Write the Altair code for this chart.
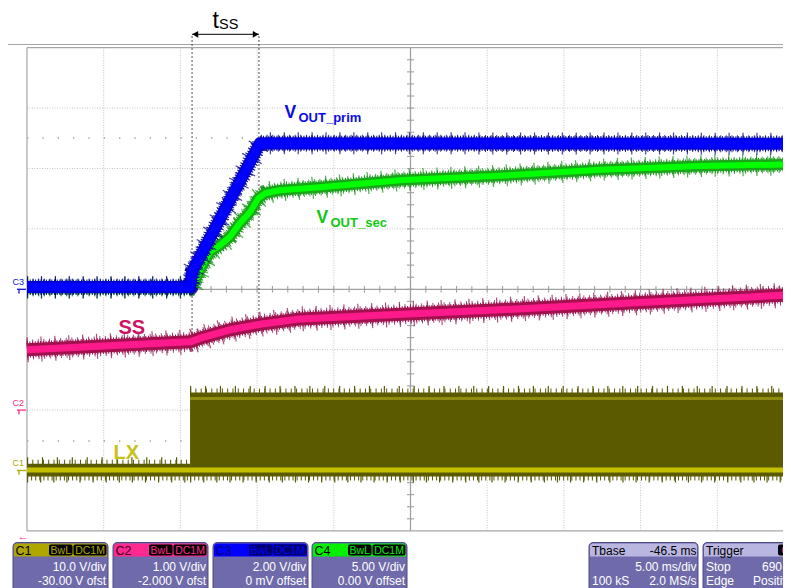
import altair as alt
import pandas as pd
import numpy as np

# ---------------- data ----------------
# time: ms from the left screen edge (5 ms/div); level: screen divisions (0 = centre line)
prim_t = [0.0, 10.63, 10.76, 15.19, 50.0]
prim_v = [0.04, 0.04, 0.29, 2.42, 2.41]

sec_t = [0.0, 10.63, 10.82, 11.28, 11.93, 12.58, 13.23, 13.89, 14.54, 15.06,
         15.52, 16.49, 19.10, 24.51, 30.83, 37.35, 43.87, 50.0]
sec_v = [0.02, 0.02, 0.055, 0.32, 0.62, 0.73, 0.87, 1.10, 1.28, 1.50,
         1.59, 1.64, 1.69, 1.81, 1.88, 1.98, 2.04, 2.07]

ss_t = [0.0, 10.63, 11.28, 13.23, 15.19, 17.80, 23.01, 30.83, 34.75, 40.61, 50.0]
ss_v = [-1.00, -0.87, -0.81, -0.67, -0.58, -0.49, -0.43, -0.34, -0.29, -0.21, -0.09]

lx_t = [0.0, 10.63, 50.0]      # idle segment, then switching segment
lx_low = -2.99                 # switch-node low level
lx_high = -1.81                # switch-node high level

tss_start, tss_end = 10.76, 15.12

ch_names = ["C1", "C2", "C3", "C4"]
ch_vdiv = ["10.0 V/div", "1.00 V/div", "2.00 V/div", "5.00 V/div"]
ch_offset = ["-30.00 V ofst", "-2.000 V ofst", "0 mV offset", "0.00 V offset"]
ch_level = [-3.0, -2.0, 0.0]   # ground markers C1, C2, C3
tbase_info = ["Tbase", "-46.5 ms", "5.00 ms/div", "100 kS", "2.0 MS/s"]
trig_info = ["Trigger", "C2", "Stop", "690 mV", "Edge", "Positive"]

# ---------------- geometry ----------------
W, H = 775, 580
PXX = 76.7   # px per division (x)
PXY = 60.4   # px per division (y)


def tx(px):
    return (px - 27.0) * 5.0 / PXX


def ty(py):
    return (289.3 - py) / PXY


XMIN, XMAX = tx(8), tx(8 + W)
YMAX, YMIN = ty(8), ty(8 + H)
xs = alt.Scale(domain=[XMIN, XMAX], nice=False, zero=False)
ys = alt.Scale(domain=[YMIN, YMAX], nice=False, zero=False)
FONT = "Liberation Sans"


def X(f):
    return alt.X(f"{f}:Q", scale=xs, axis=None)


def Y(f):
    return alt.Y(f"{f}:Q", scale=ys, axis=None)


def rules(rows, **kw):
    df = pd.DataFrame(rows, columns=["x1", "x2", "y1", "y2"])
    return alt.Chart(df).mark_rule(**kw).encode(
        x=X("x1"), x2=alt.X2("x2"), y=Y("y1"), y2=alt.Y2("y2"))


def rects(rows, **kw):
    df = pd.DataFrame(rows, columns=["x1", "x2", "y1", "y2", "c"])
    return alt.Chart(df).mark_rect(**kw).encode(
        x=X("x1"), x2=alt.X2("x2"), y=Y("y1"), y2=alt.Y2("y2"),
        color=alt.Color("c:N", scale=None))


def texts(rows, **kw):
    df = pd.DataFrame(rows, columns=["x", "y", "text", "c"])
    kw.setdefault("font", FONT)
    kw.setdefault("baseline", "alphabetic")
    kw.setdefault("align", "left")
    return alt.Chart(df).mark_text(**kw).encode(
        x=X("x"), y=Y("y"), text="text:N", color=alt.Color("c:N", scale=None))


layers = []

# ---------------- graticule ----------------
grid = [(5 * k, 5 * k, -4, 4) for k in range(1, 10) if k != 5]
grid += [(0, XMAX, j, j) for j in range(-3, 4) if j != 0]
layers.append(rules(grid, color="#c4c4c4", strokeWidth=1, strokeDash=[1, 1.5]))
layers.append(rules([(0, XMAX, ty(138), ty(138)), (0, XMAX, ty(441), ty(441))],
                    color="#9a9a9a", strokeWidth=1.3, strokeDash=[1.3, 14.04]))
frame = [(0, 0, -4, 4), (0, XMAX, 4, 4), (0, XMAX, -4, -4),
         (XMIN, XMAX, ty(44.5), ty(44.5))]
layers.append(rules(frame, color="#a6a6a6", strokeWidth=1.2))
centre = [(0, XMAX, 0, 0), (25, 25, -4, 4)]
layers.append(rules(centre, color="#a0a0a0", strokeWidth=1.3))
ticks = [(t, t, -0.055, 0.055) for t in range(1, 50)]
ticks += [(25 - 0.23, 25 + 0.23, v, v) for v in np.round(np.arange(-3.8, 3.81, 0.2), 2)]
layers.append(rules(ticks, color="#a0a0a0", strokeWidth=1.1))

# t_ss dashed markers (under traces)
layers.append(rules([(tss_start, tss_start, ty(36), -0.87), (tss_end, tss_end, ty(36), -0.58)],
                    color="#222222", strokeWidth=0.8, strokeDash=[2, 2]))

# ---------------- traces ----------------
lx = pd.DataFrame({"t1": lx_t[:-1], "t2": lx_t[1:],
                   "hi": [lx_low, lx_high], "lo": [lx_low, lx_low]})
lx["top"] = lx["hi"] + 0.10
lx["bot"] = lx["lo"] - 0.11


def lx_rule(field, **kw):
    return alt.Chart(lx).mark_rule(**kw).encode(
        x=X("t1"), x2=alt.X2("t2"), y=Y(field))


layers.append(lx_rule("top", color="#5a5800", strokeWidth=8, strokeDash=[1, 4.3]))
layers.append(lx_rule("top", color="#5a5800", strokeWidth=13, strokeDash=[1.2, 13.7]))
layers.append(lx_rule("bot", color="#5a5800", strokeWidth=8, strokeDash=[1, 3.1]))
layers.append(lx_rule("bot", color="#5a5800", strokeWidth=12, strokeDash=[1.2, 11.9]))
layers.append(alt.Chart(lx).mark_rect(color="#5c5a00").encode(
    x=X("t1"), x2=alt.X2("t2"), y=Y("top"), y2=alt.Y2("bot")))
layers.append(lx_rule("hi", color="#8e8b12", strokeWidth=3))
layers.append(lx_rule("lo", color="#c4c000", strokeWidth=5))


def trace(t, v, comb, outer, core, w):
    df = pd.DataFrame({"t": t, "v": v})
    base = alt.Chart(df)
    enc = dict(x=X("t"), y=Y("v"))
    return [
        base.mark_line(color=comb, strokeWidth=w[0] + 5, strokeDash=[1.2, 12.7], clip=True,
                       opacity=0.75, strokeJoin="round").encode(**enc),
        base.mark_line(color=comb, strokeWidth=w[0], strokeDash=[1, 4.6], clip=True,
                       opacity=0.8, strokeJoin="round").encode(**enc),
        base.mark_line(color=comb, strokeWidth=w[1] + 3, strokeDash=[1, 1.7], clip=True,
                       strokeJoin="round").encode(**enc),
        base.mark_line(color=outer, strokeWidth=w[1], clip=True, strokeJoin="round").encode(**enc),
        base.mark_line(color=core, strokeWidth=w[2], clip=True, strokeJoin="round").encode(**enc),
    ]


layers += trace(ss_t, ss_v, "#8e1150", "#a3104e", "#ff1a8c", (20, 13, 7))
layers += trace(sec_t, sec_v, "#138f13", "#1aa51a", "#00ff00", (17, 11, 6))
layers += trace(prim_t, prim_v, "#00008a", "#0000d8", "#0000ff", (17, 12, 8))

# ---------------- annotations ----------------
layers.append(rules([(tss_start, tss_end, ty(34.3), ty(34.3))], color="#000000", strokeWidth=1))
arrows = pd.DataFrame({"x": [tss_start + 0.21, tss_end - 0.21], "y": [ty(34.3)] * 2,
                       "s": ["triangle-left", "triangle-right"]})
layers.append(alt.Chart(arrows).mark_point(filled=True, size=45, color="#000000", opacity=1).encode(
    x=X("x"), y=Y("y"), shape=alt.Shape("s:N", scale=None)))
layers.append(texts([(tx(212.5), ty(28), "t", "#000000")], fontSize=23))
layers.append(texts([(tx(219), ty(28.5), "SS", "#000000")], fontSize=14.5))

layers.append(texts([(tx(284.5), ty(117.5), "V", "#0a0ae6"),
                     (tx(316.5), ty(222.5), "V", "#10c810")], fontSize=17.5, fontWeight="bold"))
layers.append(texts([(tx(298.5), ty(121.5), "OUT_prim", "#0a0ae6"),
                     (tx(330.5), ty(227), "OUT_sec", "#10c810")], fontSize=13, fontWeight="bold"))
layers.append(texts([(tx(118.5), ty(333.5), "SS", "#cc1262"),
                     (tx(113.5), ty(458.5), "LX", "#c6c21a")], fontSize=20, fontWeight="bold"))

# channel ground markers
mk_col = ["#b0a800", "#ff2a90", "#1010e0"]
layers.append(texts([(tx(12.5), lv + 0.068, nm, c) for lv, nm, c in zip(ch_level, ch_names, mk_col)],
                    fontSize=9))
mk = pd.DataFrame({"lv": ch_level, "c": mk_col})
mk["x1"], mk["x2"] = tx(17), tx(26)
mk["ya"] = mk["lv"] - 0.07
layers.append(alt.Chart(mk).mark_rule(strokeWidth=1.3).encode(
    x=X("x1"), x2=alt.X2("x2"), y=Y("lv"), color=alt.Color("c:N", scale=None)))
mk["xv"] = tx(19)
layers.append(alt.Chart(mk).mark_rule(strokeWidth=1.3).encode(
    x=X("xv"), y=Y("lv"), y2=alt.Y2("ya"), color=alt.Color("c:N", scale=None)))
layers.append(texts([(tx(23), ty(540), "\u2190", "#ff2a90")], fontSize=11, fontWeight="bold",
                    align="center"))

# ---------------- scope info panels ----------------
PANEL = "#6f6bab"
left_px = [13, 113, 213, 312]
head_col = ["#b0a600", "#ff2a90", "#0000ff", "#00f000"]
head_txt = ["#000000", "#3a0018", "#00007a", "#000000"]
box_bg = ["#000000", "#000000", "#00006a", "#000000"]

body, heads, boxes, htxt, btxt, rtxt = [], [], [], [], [], []
for L, hc, ht, bb, nm, vd, of in zip(left_px, head_col, head_txt, box_bg, ch_names, ch_vdiv, ch_offset):
    body.append((tx(L), tx(L + 95), ty(542.5), ty(600), PANEL))
    heads.append((tx(L + 1), tx(L + 94), ty(543.5), ty(556.5), hc))
    boxes.append((tx(L + 36), tx(L + 59.5), ty(544.5), ty(555.5), bb))
    boxes.append((tx(L + 60.5), tx(L + 93.5), ty(544.5), ty(555.5), bb))
    htxt.append((tx(L + 2.5), ty(554.5), nm, ht))
    btxt.append((tx(L + 47.8), ty(553.8), "BwL", hc))
    btxt.append((tx(L + 77), ty(553.8), "DC1M", hc))
    rtxt.append((tx(L + 93), ty(570.5), vd, "#ffffff"))
    rtxt.append((tx(L + 93), ty(584.5), of, "#ffffff"))

# timebase and trigger panels
body.append((tx(589), tx(698), ty(542.5), ty(600), PANEL))
body.append((tx(703), tx(810), ty(542.5), ty(600), PANEL))
heads.append((tx(590), tx(697), ty(543.5), ty(556.5), "#b9b6e2"))
heads.append((tx(704), tx(809), ty(543.5), ty(556.5), "#b9b6e2"))
boxes.append((tx(778), tx(805), ty(544.5), ty(555.5), "#000000"))
ltxt = [(tx(592), ty(554.5), tbase_info[0], "#000000"),
        (tx(706), ty(554.5), trig_info[0], "#000000"),
        (tx(592), ty(584.5), tbase_info[3], "#ffffff"),
        (tx(706), ty(570.5), trig_info[2], "#ffffff"),
        (tx(762), ty(570.5), trig_info[3], "#ffffff"),
        (tx(706), ty(584.5), trig_info[4], "#ffffff"),
        (tx(753), ty(584.5), trig_info[5], "#ffffff")]
rtxt += [(tx(696.5), ty(554.5), tbase_info[1], "#000000"),
         (tx(696.5), ty(570.5), tbase_info[2], "#ffffff"),
         (tx(696.5), ty(584.5), tbase_info[4], "#ffffff")]
btxt.append((tx(788), ty(553.8), trig_info[1], "#ff2a90"))

layers.append(rects(body, cornerRadius=4, stroke="#4e4a86", strokeWidth=1))
layers.append(rects(heads, cornerRadiusTopLeft=3, cornerRadiusTopRight=3))
layers.append(rects(boxes, cornerRadius=2))
layers.append(texts(htxt, fontSize=12.5, align="left"))
layers.append(texts(btxt, fontSize=10.5, align="center"))
layers.append(texts(rtxt, fontSize=12, align="right"))
layers.append(texts(ltxt, fontSize=12, align="left"))

chart = alt.layer(*layers).properties(
    width=W, height=H, padding=0, background="#ffffff",
    autosize=alt.AutoSizeParams(type="none"),
).configure_view(stroke=None)

chart.save("out.html", embed_options={"renderer": "svg", "actions": False})
